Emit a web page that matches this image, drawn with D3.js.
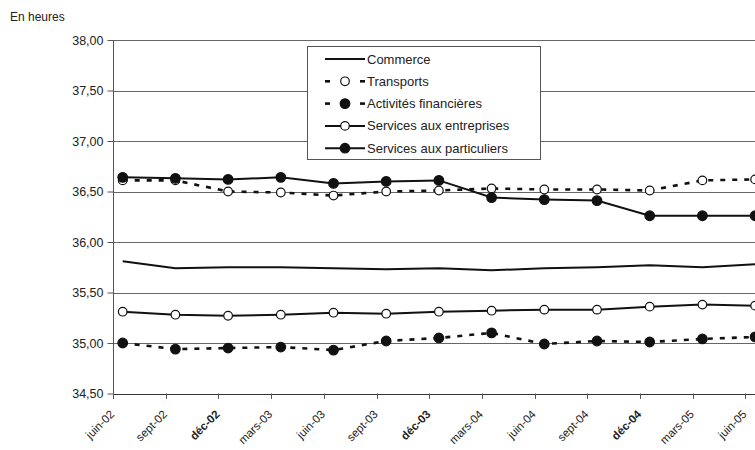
<!DOCTYPE html>
<html><head><meta charset="utf-8">
<script src="https://cdn.jsdelivr.net/npm/d3@7"></script>
<style>body{margin:0;background:#fff}svg{display:block}text{font-family:"Liberation Sans",Arial,sans-serif;fill:#222}</style>
</head><body><svg id="c" width="755" height="450"></svg>
<script>
const categories=["juin-02","sept-02","déc-02","mars-03","juin-03","sept-03","déc-03","mars-04","juin-04","sept-04","déc-04","mars-05","juin-05"];
const commerce=[35.81,35.74,35.75,35.75,35.74,35.73,35.74,35.72,35.74,35.75,35.77,35.75,35.78];
const transports=[36.61,36.61,36.50,36.49,36.46,36.50,36.51,36.53,36.52,36.52,36.51,36.61,36.62];
const financieres=[35.00,34.94,34.95,34.96,34.93,35.02,35.05,35.10,34.99,35.02,35.01,35.04,35.06];
const entreprises=[35.31,35.28,35.27,35.28,35.30,35.29,35.31,35.32,35.33,35.33,35.36,35.38,35.37];
const particuliers=[36.64,36.63,36.62,36.64,36.58,36.60,36.61,36.44,36.42,36.41,36.26,36.26,36.26];
const yTicks=[34.5,35,35.5,36,36.5,37,37.5,38];
const series=[
 {name:"Commerce",values:commerce,dash:null,marker:null},
 {name:"Transports",values:transports,dash:"5,7",marker:"open"},
 {name:"Activités financières",values:financieres,dash:"5,7",marker:"filled"},
 {name:"Services aux entreprises",values:entreprises,dash:null,marker:"open"},
 {name:"Services aux particuliers",values:particuliers,dash:null,marker:"filled"}
];
const svg=d3.select("#c");
const x=d3.scaleLinear().domain([0,categories.length-1]).range([122.7,755.1]);
const y=d3.scaleLinear().domain([34.5,38]).range([393.5,40]);
const fmt=v=>d3.format(".2f")(v).replace(".",",");
const left=113.5, right=755;
// gridlines
svg.append("g").selectAll("line").data(yTicks).join("line")
 .attr("x1",left).attr("x2",right).attr("y1",d=>Math.round(y(d))+0.5).attr("y2",d=>Math.round(y(d))+0.5)
 .attr("stroke",d=>d===34.5?"#333":"#666").attr("stroke-width",1);
// y axis
const ya=svg.append("g").attr("transform",`translate(${left},0)`)
 .call(d3.axisLeft(y).tickValues(yTicks).tickFormat(fmt).tickSize(6).tickPadding(4));
ya.select(".domain").attr("stroke","#555").attr("d",`M-0,${y(38)}V${y(34.5)}`);
ya.selectAll(".tick line").attr("stroke","#555");
ya.selectAll(".tick text").style("font-size","12.5px").style("fill","#222");
// x ticks
const tickX=i=>x(i)-9.7;
svg.append("g").selectAll("line").data(categories).join("line")
 .attr("x1",(d,i)=>Math.round(tickX(i))+0.5).attr("x2",(d,i)=>Math.round(tickX(i))+0.5)
 .attr("y1",393.5).attr("y2",399).attr("stroke","#555");
svg.append("g").selectAll("text").data(categories).join("text")
 .attr("transform",(d,i)=>`translate(${tickX(i)+2},415) rotate(-45)`)
 .attr("text-anchor","end")
 .style("font-size","11.5px").style("font-weight",d=>d.startsWith("déc")?"bold":"normal")
 .text(d=>d);
// lines
const line=d3.line().x((d,i)=>x(i)).y(d=>y(d));
const g=svg.append("g");
series.forEach(s=>{
 g.append("path").attr("d",line(s.values)).attr("fill","none").attr("stroke","#111")
  .attr("stroke-width",s.dash?2.6:2).attr("stroke-dasharray",s.dash);
});
series.forEach(s=>{
 if(!s.marker)return;
 g.selectAll(null).data(s.values).join("circle")
  .attr("cx",(d,i)=>x(i)).attr("cy",d=>y(d)).attr("r",s.marker==="open"?4.3:4.8)
  .attr("fill",s.marker==="open"?"#fff":"#111").attr("stroke","#111").attr("stroke-width",1.2);
});
// legend
const lg=svg.append("g");
lg.append("rect").attr("x",307.5).attr("y",46.5).attr("width",233).attr("height",113).attr("fill","#fff").attr("stroke","#555");
series.forEach((s,k)=>{
 const cy=59+k*22.3;
 if(s.dash){
  lg.append("line").attr("x1",325).attr("x2",330).attr("y1",cy).attr("y2",cy).attr("stroke","#111").attr("stroke-width",2.6);
  lg.append("line").attr("x1",360).attr("x2",365).attr("y1",cy).attr("y2",cy).attr("stroke","#111").attr("stroke-width",2.6);
 } else {
  lg.append("line").attr("x1",325).attr("x2",365).attr("y1",cy).attr("y2",cy).attr("stroke","#111").attr("stroke-width",2);
 }
 if(s.marker){
  lg.append("circle").attr("cx",345).attr("cy",cy).attr("r",s.marker==="open"?4.3:4.8)
   .attr("fill",s.marker==="open"?"#fff":"#111").attr("stroke","#111").attr("stroke-width",1.2);
 }
 lg.append("text").attr("x",367).attr("y",cy).attr("dy","0.35em").style("font-size","13px").text(s.name);
});
svg.append("text").attr("x",10).attr("y",21).style("font-size","12px").text("En heures");
</script></body></html>
